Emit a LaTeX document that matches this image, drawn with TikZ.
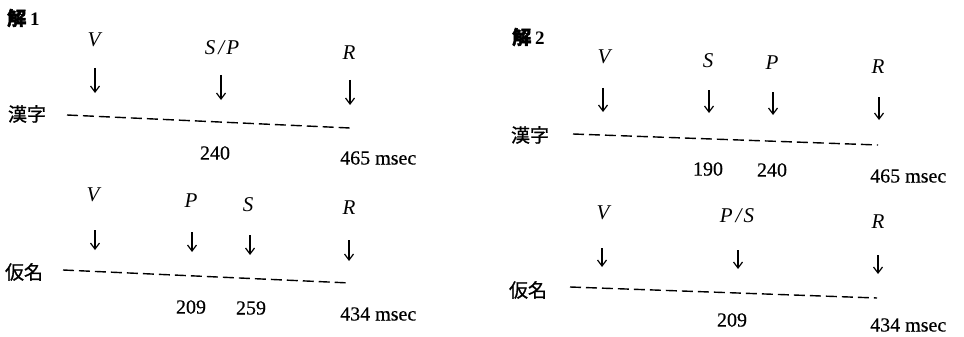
\documentclass[tikz,border=0pt]{standalone}
\usepackage{fontspec}
\setmainfont{Liberation Serif}
\newfontfamily\txtf[FakeBold=0.5]{Liberation Serif}
\newfontfamily\cjk[FakeBold=1]{Noto Sans CJK JP}
\newfontfamily\cjkb[FakeBold=2.5]{Noto Sans CJK JP}
\usetikzlibrary{arrows.meta}
\begin{document}
\begin{tikzpicture}[x=1pt,y=-1pt,
  lab/.style={font=\fontsize{21}{21}\selectfont\itshape, inner sep=0pt},
  num/.style={font=\fontsize{20}{20}\selectfont\txtf, inner sep=0pt},
  cjkl/.style={font=\fontsize{19}{19}\selectfont\cjk, inner sep=0pt},
  head/.style={font=\fontsize{19}{19}\selectfont\bfseries, inner sep=0pt, anchor=west},
  tl/.style={line width=1.4pt, dash pattern=on 11pt off 5pt},
  arr/.style={line width=1.2pt, -{Straight Barb[length=6pt,width=9pt]}}]
\useasboundingbox (0,0) rectangle (964,337);
% ---------------- Panel 1 ----------------
\node[head] (h1) at (7,18) {{\cjkb 解}\hspace{4pt}1};
% kanji
\node[lab] (v1) at (94,40) {V};
\node[lab] (sp1) at (222,48) {S\hspace{3pt}/\hspace{2pt}P};
\node[lab] (r1) at (349,53) {R};
\coordinate (a1t) at (95,68);  \coordinate (a1b) at (95,93);
\coordinate (a2t) at (221,75); \coordinate (a2b) at (221,100);
\coordinate (a3t) at (350,80); \coordinate (a3b) at (350,105);
\draw[arr] (a1t) -- (a1b);
\draw[arr] (a2t) -- (a2b);
\draw[arr] (a3t) -- (a3b);
\node[cjkl] (k1) at (27,114) {漢字};
\coordinate (l1s) at (67,115); \coordinate (l1e) at (350,128);
\draw[tl] (l1s) -- (l1e);
\node[num] (n1) at (215,153) {240};
\node[num,anchor=west] (m1) at (340,158) {465 msec};
% kana
\node[lab] (v2) at (93,195) {V};
\node[lab] (p2) at (191,201) {P};
\node[lab] (s2) at (248,205) {S};
\node[lab] (r2) at (349,208) {R};
\coordinate (b1t) at (95,230);  \coordinate (b1b) at (95,250);
\coordinate (b2t) at (192,232); \coordinate (b2b) at (192,252);
\coordinate (b3t) at (250,235); \coordinate (b3b) at (250,255);
\coordinate (b4t) at (349,240); \coordinate (b4b) at (349,261);
\draw[arr] (b1t) -- (b1b);
\draw[arr] (b2t) -- (b2b);
\draw[arr] (b3t) -- (b3b);
\draw[arr] (b4t) -- (b4b);
\node[cjkl] (k2) at (24,272) {仮名};
\coordinate (l2s) at (63,270); \coordinate (l2e) at (350,283);
\draw[tl] (l2s) -- (l2e);
\node[num] (n2) at (191,307) {209};
\node[num] (n3) at (251,308) {259};
\node[num,anchor=west] (m2) at (340,314) {434 msec};
% ---------------- Panel 2 ----------------
\node[head] (h2) at (512,37) {{\cjkb 解}\hspace{4pt}2};
% kanji
\node[lab] (v3) at (604,57) {V};
\node[lab] (s3) at (708,61) {S};
\node[lab] (p3) at (772,63) {P};
\node[lab] (r3) at (878,67) {R};
\coordinate (c1t) at (603,88);  \coordinate (c1b) at (603,112);
\coordinate (c2t) at (709,90);  \coordinate (c2b) at (709,113);
\coordinate (c3t) at (773,92);  \coordinate (c3b) at (773,115);
\coordinate (c4t) at (879,97);  \coordinate (c4b) at (879,120);
\draw[arr] (c1t) -- (c1b);
\draw[arr] (c2t) -- (c2b);
\draw[arr] (c3t) -- (c3b);
\draw[arr] (c4t) -- (c4b);
\node[cjkl] (k3) at (530,135) {漢字};
\coordinate (l3s) at (573,134); \coordinate (l3e) at (878,145);
\draw[tl] (l3s) -- (l3e);
\node[num] (n4) at (708,169) {190};
\node[num] (n5) at (772,170) {240};
\node[num,anchor=west] (m3) at (870,176) {465 msec};
% kana
\node[lab] (v4) at (603,213) {V};
\node[lab] (ps4) at (737,216) {P\hspace{3pt}/\hspace{2pt}S};
\node[lab] (r4) at (878,222) {R};
\coordinate (d1t) at (602,248); \coordinate (d1b) at (602,267);
\coordinate (d2t) at (738,250); \coordinate (d2b) at (738,269);
\coordinate (d3t) at (878,255); \coordinate (d3b) at (878,274);
\draw[arr] (d1t) -- (d1b);
\draw[arr] (d2t) -- (d2b);
\draw[arr] (d3t) -- (d3b);
\node[cjkl] (k4) at (528,290) {仮名};
\coordinate (l4s) at (570,287); \coordinate (l4e) at (877,298);
\draw[tl] (l4s) -- (l4e);
\node[num] (n6) at (732,320) {209};
\node[num,anchor=west] (m4) at (870,325) {434 msec};
\end{tikzpicture}
\end{document}
